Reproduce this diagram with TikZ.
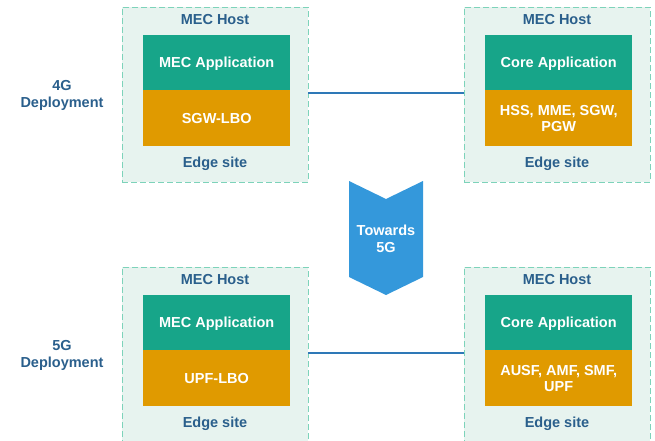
\documentclass[tikz,border=0pt]{standalone}
\usepackage{fontspec}
\setmainfont{Liberation Sans}
\begin{document}
\definecolor{hostfill}{HTML}{E7F3EF}
\definecolor{hostedge}{HTML}{7DD3BA}
\definecolor{appgreen}{HTML}{17A589}
\definecolor{fnorange}{HTML}{E09A00}
\definecolor{labelblue}{HTML}{2A5F8C}
\definecolor{linkblue}{HTML}{2E78B7}
\definecolor{arrowblue}{HTML}{3498DB}
\begin{tikzpicture}[x=1pt,y=-1pt,
  font=\fontsize{14.5}{16.5}\selectfont\bfseries,
  host/.style={draw=hostedge, fill=hostfill, dashed, dash pattern=on 6pt off 3pt, line width=0.9pt,
    minimum width=186pt, minimum height=175pt, anchor=north west, inner sep=0pt},
  app/.style={fill=appgreen, text=white, minimum width=147pt, minimum height=55pt,
    anchor=north west, inner sep=0pt, text depth=0pt},
  fn/.style={fill=fnorange, text=white, minimum width=147pt, minimum height=56pt,
    anchor=north west, inner sep=0pt, align=center, text depth=0pt},
  lbl/.style={text=labelblue, inner sep=0pt},
  link/.style={draw=linkblue, line width=1.2pt}]
\useasboundingbox (0,0) rectangle (655,441);

% 4G row
\node[lbl, align=center] (dep4) at (62,95.5) {4G\\Deployment};
\node[host] (h1) at (122,7) {};
\node[app] (a1) at (143,35) {MEC Application};
\node[fn] (f1) at (143,90) {SGW-LBO};
\node[lbl] (t1) at (215,20) {MEC Host};
\node[lbl] (e1) at (215,164) {Edge site};

\node[host] (h2) at (464,7) {};
\node[app] (a2) at (485,35) {Core Application};
\node[fn] (f2) at (485,90) {HSS, MME, SGW,\\PGW};
\node[lbl] (t2) at (557,20) {MEC Host};
\node[lbl] (e2) at (557,164) {Edge site};

\draw[link] (308,93) coordinate (l1a) -- (464,93) coordinate (l1b);

% transition arrow
\fill[arrowblue] (349,181) -- (386,199) -- (423,181) -- (423,277) -- (386,295) -- (349,277) -- cycle;
\node[text=white, align=center, inner sep=0pt] (tw) at (386,239) {Towards\\5G};

% 5G row
\node[lbl, align=center] (dep5) at (62,355.5) {5G\\Deployment};
\node[host] (h3) at (122,267) {};
\node[app] (a3) at (143,295) {MEC Application};
\node[fn] (f3) at (143,350) {UPF-LBO};
\node[lbl] (t3) at (215,280) {MEC Host};
\node[lbl] (e3) at (215,424) {Edge site};

\node[host] (h4) at (464,267) {};
\node[app] (a4) at (485,295) {Core Application};
\node[fn] (f4) at (485,350) {AUSF, AMF, SMF,\\UPF};
\node[lbl] (t4) at (557,280) {MEC Host};
\node[lbl] (e4) at (557,424) {Edge site};

\draw[link] (308,353) coordinate (l2a) -- (464,353) coordinate (l2b);
\end{tikzpicture}
\end{document}
